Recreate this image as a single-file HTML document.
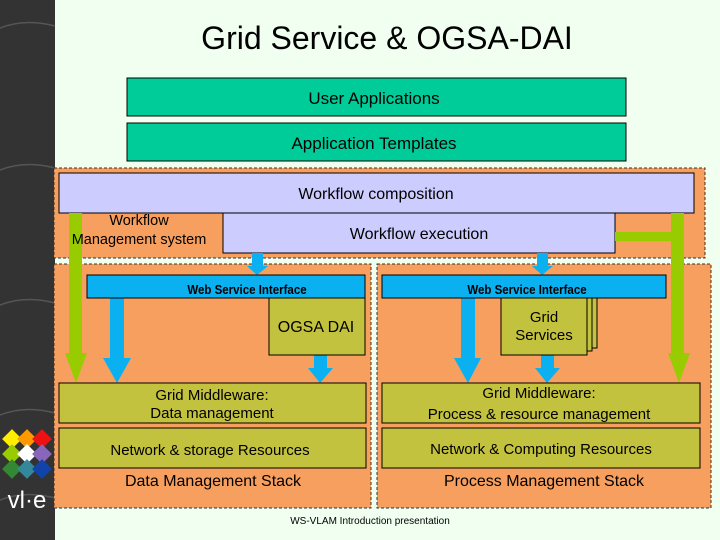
<!DOCTYPE html>
<html><head><meta charset="utf-8"><style>
html,body{margin:0;padding:0;width:720px;height:540px;overflow:hidden;background:#f0fff0}
svg{display:block}
text{font-family:"Liberation Sans",sans-serif;fill:#000}
</style></head><body>
<svg width="720" height="540" viewBox="0 0 720 540" xmlns="http://www.w3.org/2000/svg">
<rect x="0" y="0" width="720" height="540" fill="#f0fff0"/>
<rect x="0" y="0" width="55" height="540" fill="#333333"/>
<g stroke="#555" stroke-width="1.5" fill="none">
<path d="M0 28 Q25 18 55 26"/><path d="M0 170 Q25 160 55 168"/><path d="M0 305 Q25 295 55 303"/><path d="M0 415 Q25 405 55 413"/><path d="M0 500 Q25 490 55 498"/>
</g>
<g>
<rect x="5" y="432" width="14" height="14" fill="#ffee00" transform="rotate(45 12 439)"/>
<rect x="20" y="432" width="14" height="14" fill="#ff9900" transform="rotate(45 27 439)"/>
<rect x="35" y="432" width="14" height="14" fill="#ee1111" transform="rotate(45 42 439)"/>
<rect x="5" y="447" width="14" height="14" fill="#99cc00" transform="rotate(45 12 454)"/>
<rect x="20" y="447" width="14" height="14" fill="#ffffff" transform="rotate(45 27 454)"/>
<rect x="35" y="447" width="14" height="14" fill="#8866bb" transform="rotate(45 42 454)"/>
<rect x="5" y="462" width="14" height="14" fill="#338833" transform="rotate(45 12 469)"/>
<rect x="20" y="462" width="14" height="14" fill="#338899" transform="rotate(45 27 469)"/>
<rect x="35" y="462" width="14" height="14" fill="#1144aa" transform="rotate(45 42 469)"/>
<text x="27" y="508" text-anchor="middle" font-size="24" style="fill:#fff">vl·e</text>
</g>
<text x="387" y="49" text-anchor="middle" font-size="32">Grid Service &amp; OGSA-DAI</text>
<rect x="127" y="78" width="499" height="38" fill="#00cc99" stroke="#000"/>
<text x="374" y="104" text-anchor="middle" font-size="17">User Applications</text>
<rect x="127" y="123" width="499" height="38" fill="#00cc99" stroke="#000"/>
<text x="374" y="149" text-anchor="middle" font-size="17">Application  Templates</text>
<rect x="54" y="168" width="651" height="90" fill="#f79f5e" stroke="#333" stroke-dasharray="3,2"/>
<rect x="54" y="264" width="317" height="244" fill="#f79f5e" stroke="#333" stroke-dasharray="3,2"/>
<rect x="377" y="264" width="334" height="244" fill="#f79f5e" stroke="#333" stroke-dasharray="3,2"/>
<rect x="59" y="173" width="635" height="40" fill="#ccccff" stroke="#000"/>
<text x="376" y="199" text-anchor="middle" font-size="16">Workflow composition</text>
<rect x="223" y="213" width="392" height="40" fill="#ccccff" stroke="#000"/>
<text x="419" y="239" text-anchor="middle" font-size="16">Workflow execution</text>
<g fill="#99cc00">
<rect x="69" y="213" width="13" height="140"/><polygon points="65,353 87,353 76,383"/>
<rect x="671" y="213" width="13" height="140"/><polygon points="668,353 690,353 679,383"/>
<rect x="615" y="232" width="56" height="9"/>
</g>
<text x="139" y="225" text-anchor="middle" font-size="14.5">Workflow</text>
<text x="139" y="244" text-anchor="middle" font-size="14.5">Management system</text>
<g fill="#0bb0f0">
<rect x="252" y="253" width="11" height="14"/><polygon points="247,266 268,266 257,275"/>
<rect x="537" y="253" width="11" height="14"/><polygon points="532,266 553,266 542,275"/>
<rect x="110" y="298" width="14" height="60"/><polygon points="103,358 131,358 117,383"/>
<rect x="314" y="355" width="13" height="14"/><polygon points="308,368 333,368 320,383"/>
<rect x="461" y="298" width="14" height="60"/><polygon points="454,358 481,358 468,383"/>
<rect x="541" y="355" width="13" height="14"/><polygon points="535,368 560,368 547,383"/>
</g>
<rect x="87" y="275" width="278" height="23" fill="#0bb0f0" stroke="#000"/>
<text x="247" y="294" text-anchor="middle" font-size="12.5" font-weight="bold" transform="translate(247 0) scale(0.92 1) translate(-247 0)">Web Service Interface</text>
<rect x="382" y="275" width="284" height="23" fill="#0bb0f0" stroke="#000"/>
<text x="527" y="294" text-anchor="middle" font-size="12.5" font-weight="bold" transform="translate(527 0) scale(0.92 1) translate(-527 0)">Web Service Interface</text>
<rect x="269" y="298" width="96" height="57" fill="#c3c23f" stroke="#000"/>
<text x="316" y="332" text-anchor="middle" font-size="16">OGSA DAI</text>
<rect x="511" y="298" width="86" height="50" fill="#c3c23f" stroke="#000"/>
<rect x="506" y="298" width="86" height="53" fill="#c3c23f" stroke="#000"/>
<rect x="501" y="298" width="86" height="57" fill="#c3c23f" stroke="#000"/>
<text x="544" y="322" text-anchor="middle" font-size="15">Grid</text>
<text x="544" y="340" text-anchor="middle" font-size="15">Services</text>
<rect x="59" y="383" width="307" height="40" fill="#c3c23f" stroke="#000"/>
<text x="212" y="400" text-anchor="middle" font-size="15">Grid Middleware:</text>
<text x="212" y="418" text-anchor="middle" font-size="15">Data management</text>
<rect x="59" y="428" width="307" height="40" fill="#c3c23f" stroke="#000"/>
<text x="210" y="455" text-anchor="middle" font-size="15">Network &amp; storage Resources</text>
<text x="213" y="486" text-anchor="middle" font-size="16">Data Management Stack</text>
<rect x="382" y="383" width="318" height="40" fill="#c3c23f" stroke="#000"/>
<text x="539" y="398" text-anchor="middle" font-size="15">Grid Middleware:</text>
<text x="539" y="419" text-anchor="middle" font-size="15">Process &amp; resource management</text>
<rect x="382" y="428" width="318" height="40" fill="#c3c23f" stroke="#000"/>
<text x="541" y="454" text-anchor="middle" font-size="15">Network &amp; Computing Resources</text>
<text x="544" y="486" text-anchor="middle" font-size="16">Process Management Stack</text>
<text x="370" y="524" text-anchor="middle" font-size="10">WS-VLAM Introduction presentation</text>
</svg>
</body></html>
